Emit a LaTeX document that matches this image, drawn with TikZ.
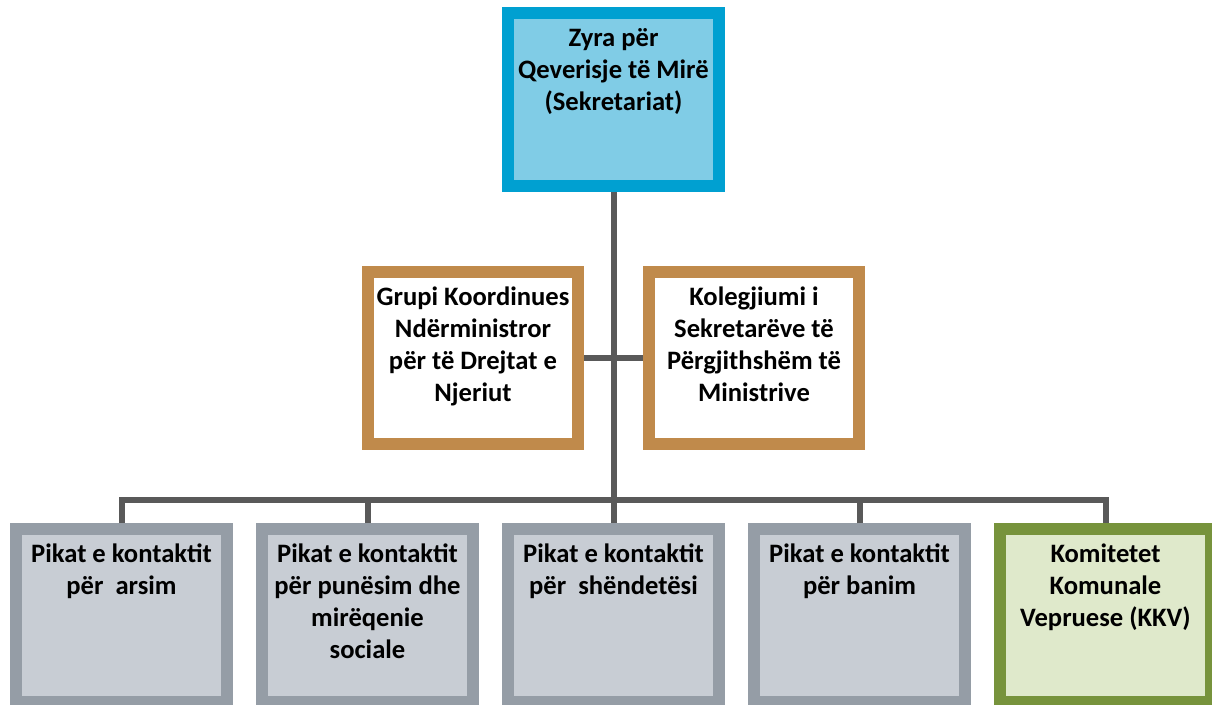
\documentclass[tikz,border=0pt]{standalone}
\usepackage{fontspec}
\setmainfont{Carlito}
\definecolor{topfill}{HTML}{80CCE6}
\definecolor{topline}{HTML}{00A0D1}
\definecolor{brownline}{HTML}{C08A4B}
\definecolor{grayline}{HTML}{959DA6}
\definecolor{grayfill}{HTML}{C8CDD4}
\definecolor{greenline}{HTML}{77933C}
\definecolor{greenfill}{HTML}{DFE9CB}
\definecolor{connc}{HTML}{595959}
\tikzset{
  boxbase/.style={rectangle, draw, line width=12pt, inner sep=0pt},
  topbox/.style={boxbase, draw=topline, fill=topfill, minimum width=211pt, minimum height=173pt},
  midbox/.style={boxbase, draw=brownline, fill=white, minimum width=210pt, minimum height=172pt},
  botbox/.style={boxbase, draw=grayline, fill=grayfill, minimum width=211pt, minimum height=173pt},
  grnbox/.style={boxbase, draw=greenline, fill=greenfill, minimum width=211pt, minimum height=173pt},
  lbl/.style={anchor=north, inner sep=0pt, align=center, font=\fontsize{26.6}{32}\selectfont\bfseries},
  conn/.style={draw=connc, line width=6pt}
}
\newcommand{\fs}{\rule{0pt}{21pt}}
\begin{document}
\begin{tikzpicture}[x=1pt,y=-1pt]
\useasboundingbox (0,0) rectangle (1212,704);
% boxes
\node[topbox] (top) at (613.5,99.5) {};
\node[midbox] (gk) at (473,358) {};
\node[midbox] (ks) at (754,358) {};
\node[botbox] (b1) at (121.5,615.5) {};
\node[botbox] (b2) at (367.5,615.5) {};
\node[botbox] (b3) at (613.5,615.5) {};
\node[botbox] (b4) at (859.5,615.5) {};
\node[grnbox] (b5) at (1105.5,615.5) {};
\coordinate (bus) at (613.5,500);
% connectors
\draw[conn] (top.south) -- (b3.north);
\draw[conn] (gk.east) -- (ks.west);
\draw[conn] (b1.north) |- (bus) -| (b5.north);
\draw[conn] (b2.north) -- (b2.north |- bus);
\draw[conn] (b4.north) -- (b4.north |- bus);
% texts
\node[lbl] (ttop) at (613.5,25) {\fs Zyra për\\Qeverisje të Mirë\\(Sekretariat)};
\node[lbl] (tgk) at (473,284) {\fs Grupi Koordinues\\Ndërministror\\për të Drejtat e\\Njeriut};
\node[lbl] (tks) at (754,284) {\fs Kolegjiumi i\\Sekretarëve të\\Përgjithshëm të\\Ministrive};
\node[lbl] (t1) at (121.5,541) {\fs Pikat e kontaktit\\për~~arsim};
\node[lbl] (t2) at (367.5,541) {\fs Pikat e kontaktit\\për punësim dhe\\mirëqenie\\sociale};
\node[lbl] (t3) at (613.5,541) {\fs Pikat e kontaktit\\për~~shëndetësi};
\node[lbl] (t4) at (859.5,541) {\fs Pikat e kontaktit\\për banim};
\node[lbl] (t5) at (1105.5,541) {\fs Komitetet\\Komunale\\Vepruese (KKV)};
\end{tikzpicture}
\end{document}
